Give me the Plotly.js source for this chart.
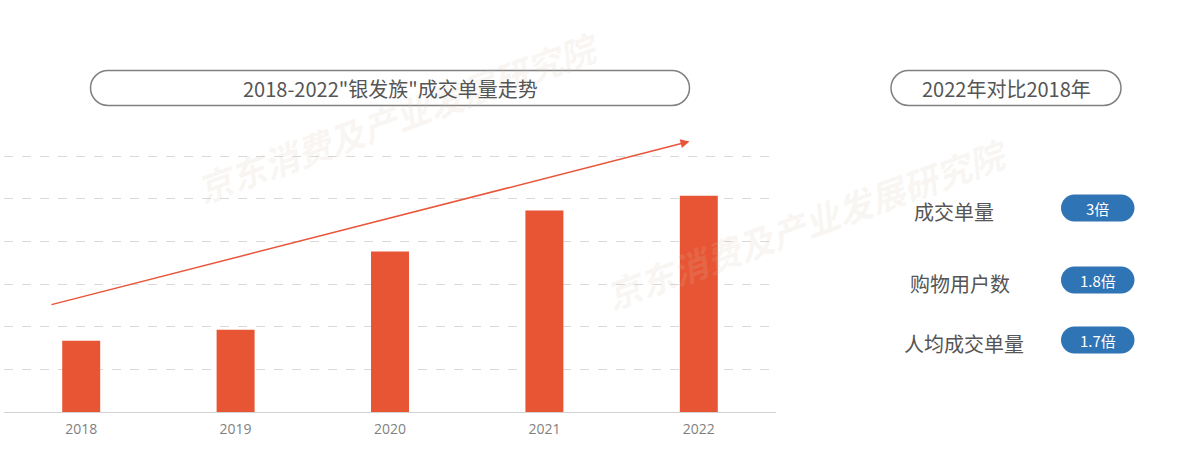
<!DOCTYPE html>
<html>
<head>
<meta charset="utf-8">
<script src="https://cdn.plot.ly/plotly-3.0.1.min.js"></script>
<style>html,body{margin:0;padding:0;background:#fff;}#chart{width:1203px;height:451px;}</style>
</head>
<body>
<div id="chart"></div>
<script>
// ---- data ----
const years = ["2018", "2019", "2020", "2021", "2022"];
const orderVolume = [1.67, 1.93, 3.76, 4.72, 5.07];
const chartTitle = '2018-2022"银发族"成交单量走势';
const compareTitle = '2022年对比2018年';
const compareLabels = ["成交单量", "购物用户数", "人均成交单量"];
const compareValues = ["3倍", "1.8倍", "1.7倍"];
const watermark = "京东消费及产业发展研究院";

// ---- layout helpers (pixel -> paper) ----
const L = 4, R = 776, T = 152, B = 412;
const W = R - L, H = B - T;
const yMax = 6 * H / 256;
const px = X => (X - L) / W;
const py = Y => (B - Y) / H;

function pillPath(x0, y0, x1, y1) {
  const r = (y1 - y0) / 2, k = 0.5523 * r, ym = (y0 + y1) / 2;
  const P = (X, Y) => px(X).toFixed(5) + ',' + py(Y).toFixed(5);
  return 'M' + P(x0 + r, y0) + ' L' + P(x1 - r, y0) +
    ' C' + P(x1 - r + k, y0) + ' ' + P(x1, ym - k) + ' ' + P(x1, ym) +
    ' C' + P(x1, ym + k) + ' ' + P(x1 - r + k, y1) + ' ' + P(x1 - r, y1) +
    ' L' + P(x0 + r, y1) +
    ' C' + P(x0 + r - k, y1) + ' ' + P(x0, ym + k) + ' ' + P(x0, ym) +
    ' C' + P(x0, ym - k) + ' ' + P(x0 + r - k, y0) + ' ' + P(x0 + r, y0) + ' Z';
}

const cjk = '"Noto Sans CJK SC", "Noto Sans", sans-serif';
const shapes = [];
const annotations = [];
const txt = (X, Y, text, font, extra) => Object.assign({xref: 'paper', yref: 'paper', x: px(X), y: py(Y),
  xanchor: 'center', yanchor: 'middle', text: text, showarrow: false, font: font}, extra || {});

// watermarks
[[397, 116], [807, 222]].forEach(c => {
  annotations.push(txt(c[0], c[1], '<b><i>' + watermark + '</i></b>',
    {family: cjk, size: 35, color: 'rgba(215,195,175,0.16)'}, {textangle: -20}));
});

// title pills
shapes.push({type: 'path', xref: 'paper', yref: 'paper', path: pillPath(90.5, 70.5, 689.5, 105.5),
  line: {color: '#808080', width: 1.5}, fillcolor: 'rgba(0,0,0,0)'});
annotations.push(txt(390, 88.5, chartTitle, {family: cjk, size: 20, color: '#555555'}));
shapes.push({type: 'path', xref: 'paper', yref: 'paper', path: pillPath(891, 70.5, 1121, 105.5),
  line: {color: '#808080', width: 1.5}, fillcolor: 'rgba(0,0,0,0)'});
annotations.push(txt(1006, 88.5, compareTitle, {family: cjk, size: 20, color: '#555555'}));

// comparison rows
const rowY = [208, 280, 340];
const labelX = [954, 960, 964];
compareLabels.forEach((lab, i) => {
  annotations.push(txt(labelX[i], rowY[i] + 3, lab, {family: cjk, size: 20, color: '#555555'}));
  shapes.push({type: 'path', xref: 'paper', yref: 'paper', path: pillPath(1061, rowY[i] - 13.5, 1134.5, rowY[i] + 13.5),
    line: {width: 0}, fillcolor: '#2f74b5'});
  annotations.push(txt(1097.5, rowY[i], compareValues[i], {family: cjk, size: 15, color: '#ffffff'}));
});

// trend arrow
const tipX = 689.5, tipY = 141.5, startX = 50, startY = 305;
annotations.push({xref: 'paper', yref: 'paper', x: px(tipX), y: py(tipY), text: '', showarrow: true,
  ax: startX - tipX, ay: startY - tipY, arrowhead: 2, arrowsize: 1.2, arrowwidth: 1.5, arrowcolor: '#e8553a',
  standoff: 0, startstandoff: 0});

const data = [{
  type: 'bar', x: years, y: orderVolume,
  marker: {color: '#e85534'}, hoverinfo: 'x+y'
}];

const layout = {
  width: 1203, height: 451,
  margin: {l: L, r: 1203 - R, t: T, b: 451 - B, pad: 0},
  paper_bgcolor: '#ffffff', plot_bgcolor: '#ffffff',
  bargap: 0.754,
  showlegend: false,
  xaxis: {
    type: 'category', showline: true, linecolor: '#d3d3d3', linewidth: 1, ticks: '',
    showgrid: false, zeroline: false, ticklabelstandoff: 4,
    tickfont: {family: '"Open Sans", sans-serif', size: 14, color: '#7f7f7f'}
  },
  yaxis: {
    range: [0, yMax], tick0: 0, dtick: 1, showticklabels: false, showgrid: true, gridcolor: '#d9d9d9',
    griddash: 'dash', gridwidth: 1, zeroline: false, showline: false, ticks: ''
  },
  shapes: shapes,
  annotations: annotations
};

Plotly.newPlot('chart', data, layout, {displayModeBar: false, staticPlot: true});
</script>
</body>
</html>
